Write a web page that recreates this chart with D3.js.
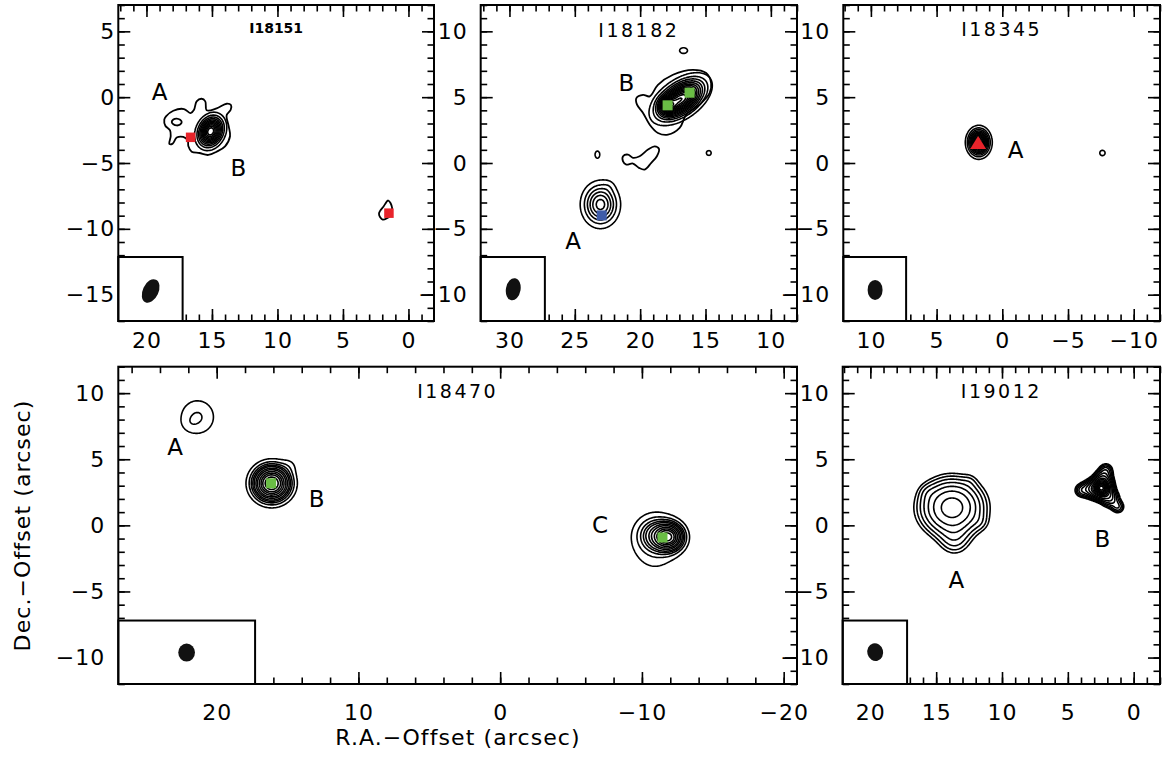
<!DOCTYPE html>
<html>
<head>
<meta charset="utf-8">
<script src="https://cdn.jsdelivr.net/npm/d3@7"></script>
<style>
  body { margin: 0; background: #fff; }
  svg text { font-family: "DejaVu Sans", sans-serif; fill: #000; }
</style>
</head>
<body>
<svg id="fig" width="1166" height="757"></svg>
<script>
// all offsets in arcsec, R.A. offset grows to the left
const panelNames = ["I18151", "I18182", "I18345", "I18470", "I19012"];
const raRanges  = [[22.15, -1.95], [32.2, 8.0], [12.1, -12.0], [26.94, -20.94], [22.1, -2.0]];
const decRanges = [[-17, 7], [-12, 12], [-12, 12], [-12, 12], [-12, 12]];
const raMajor = [5, 5, 5, 10, 5];
const raMinor = [1, 1, 1, 2, 1];

// emission components: [ra, dec, peak, sigma major, sigma minor, tilt of major axis (deg, N through W)]
const src18151 = [[15.1, -2.6, 12, 0.68, 0.52, 25]];
const src18182 = [
  [16.9, 4.85, 14, 1.2, 0.66, 55], [17.9, 4.35, 6, 0.4, 0.4, 0],
  [23.04, -3.15, 6.5, 0.95, 0.8, 0], [22.4, -1.75, 0.45, 0.35, 0.35, 0],
  [16.68, 8.54, 1.3, 0.42, 0.3, 90], [23.27, 0.64, 1.2, 0.45, 0.3, 0], [14.75, 0.76, 1.15, 0.35, 0.35, 0]
];
const src18345 = [[1.79, 1.57, 12, 0.58, 0.46, 0], [-7.62, 0.76, 1.12, 0.43, 0.43, 0]];
const src18470 = [
  [21.35, 8.2, 2.1, 1.0, 0.92, 0], [21.9, 7.7, 0.35, 0.4, 0.4, 0],
  [16.12, 3.18, 20, 0.76, 0.74, 0], [14.85, 4.55, 0.75, 0.45, 0.45, 0],
  [-11.9, -0.88, 14.5, 0.6, 0.6, 0], [-11.0, -0.75, 5, 0.75, 0.75, 0], [-10.9, -1.3, 1.8, 1.6, 1.2, 0]
];
const src19012 = [
  [13.8, 1.35, 8.5, 1.4, 1.25, 90], [13.6, -1.2, 1.5, 0.8, 0.8, 0],
  [15.7, 2.5, 0.45, 0.45, 0.45, 0], [11.6, 0.2, 0.45, 0.45, 0.45, 0], [12.4, 3.4, 0.35, 0.4, 0.4, 0],
  [2.45, 2.8, 26, 0.42, 0.42, 0],
  [3.3, 2.75, 5, 0.4, 0.4, 0], [2.3, 3.55, 5, 0.4, 0.4, 0], [1.8, 2.05, 5, 0.4, 0.4, 0],
  [4.0, 2.65, 2.5, 0.32, 0.32, 0], [2.1, 4.2, 2.5, 0.32, 0.32, 0], [1.2, 1.4, 2.5, 0.32, 0.32, 0]
];

// contour levels
const levels18151 = [1, 2, 3, 4, 5, 6, 7, 8, 9, 10, 11];
const levels18182 = [1, 2, 3, 4, 5, 6, 7, 8, 9, 10, 11, 12, 13, 14, 15, 16, 17, 18];
const levels18345 = [1, 2, 3, 4, 5, 6, 7, 8, 9, 10, 11];
const levels18470 = [1, 2, 3, 4, 5, 6.5, 8, 10, 12, 14, 16.5, 19];
const levels19012 = [1, 1.4, 1.95, 2.7, 3.75, 5.2, 7.2, 10, 12.5, 15, 17.5, 20, 22, 24, 26];

// weak, irregular contours: lists of [ra, dec]
const trace18151 = [
  [[18.51, -1.46], [17.95, -1.03], [17.13, -0.90], [16.63, -1.21], [16.37, -0.95], [16.17, -0.32],
   [15.79, -0.12], [15.51, -0.32], [15.40, -1.00], [14.64, -0.85], [13.88, -0.50], [13.55, -0.60],
   [13.57, -0.95], [13.88, -1.38], [13.72, -2.22], [13.62, -2.97], [14.0, -3.73], [14.64, -4.14],
   [15.28, -4.39], [15.96, -4.24], [16.55, -4.14], [16.80, -3.73], [16.85, -3.28], [17.19, -3.02],
   [17.69, -3.07], [18.0, -3.53], [18.25, -3.55], [18.15, -2.97], [18.20, -2.52], [18.56, -2.17], [18.64, -1.71]],
  [[18.07, -1.89], [17.95, -1.70], [17.69, -1.63], [17.43, -1.72], [17.31, -1.89], [17.43, -2.08], [17.69, -2.15], [17.95, -2.06]],
  [[1.54, -7.85], [1.25, -8.4], [1.4, -9.0], [1.97, -9.3], [2.25, -8.85], [1.9, -8.3]]
];
const trace18182 = [
  [[20.29, 4.93], [19.78, 5.18], [19.27, 5.06], [18.64, 5.94], [17.49, 6.70], [15.97, 7.08], [14.95, 6.83],
   [14.57, 6.07], [14.69, 5.31], [15.46, 4.43], [16.47, 3.67], [16.98, 2.66], [17.87, 2.15], [18.64, 2.28],
   [19.27, 2.91], [19.78, 3.80], [20.24, 4.43]],
  [[21.31, 0.51], [20.93, 0.64], [20.55, 0.39], [20.04, 0.51], [19.40, 1.02], [18.89, 1.27], [18.56, 1.07],
   [18.72, 0.51], [19.15, 0.01], [19.66, -0.50], [20.09, -0.37], [20.55, -0.04], [21.06, -0.12], [21.31, 0.13]]
];

// positions of other tracers: [ra, dec, kind]
const mark18151 = [[16.63, -3.05, "red"], [1.49, -8.81, "red"]];
const mark18182 = [[17.9, 4.38, "green"], [16.22, 5.34, "green"], [22.94, -3.98, "blue"]];
const mark18345 = [[1.84, 1.52, "tri"]];
const mark18470 = [[16.16, 3.18, "green"], [-11.45, -0.92, "green"]];
const mark19012 = [];

// component names: [text, ra, dec]
const labels18151 = [["A", 19.0, 0.44], ["B", 12.99, -5.37]];
const labels18182 = [["B", 21.06, 6.07], ["A", 25.13, -5.93]];
const labels18345 = [["A", -1.01, 1.02]];
const labels18470 = [["A", 22.94, 5.95], ["B", 12.94, 2.05], ["C", -7.05, 0.03]];
const labels19012 = [["A", 13.47, -4.12], ["B", 2.38, -0.98]];

// synthesized beam: [ra, dec, major, minor, pa] and its box [ra left, ra right, dec bottom, dec top]
const beams = [[19.68, -14.72, 0.95, 0.6, 25], [29.71, -9.59, 0.85, 0.56, 10], [9.68, -9.64, 0.76, 0.57, 0],
               [22.12, -9.62, 0.68, 0.59, 0], [19.63, -9.59, 0.68, 0.6, -15]];
const beamBoxes = [[22.15, 17.24, -17, -12.14], [32.2, 27.29, -12, -7.14], [12.1, 7.32, -12, -7.14],
                   [26.94, 17.29, -12, -7.2], [22.1, 17.21, -12, -7.2]];

const panels = [
  { src: src18151, lev: levels18151, trace: trace18151, marks: mark18151, labels: labels18151 },
  { src: src18182, lev: levels18182, trace: trace18182, marks: mark18182, labels: labels18182 },
  { src: src18345, lev: levels18345, trace: [], marks: mark18345, labels: labels18345 },
  { src: src18470, lev: levels18470, trace: [], marks: mark18470, labels: labels18470 },
  { src: src19012, lev: levels19012, trace: [], marks: mark19012, labels: labels19012 }
];

// page layout
const frames = [[118.3, 434, 5, 321], [480.7, 797, 5, 321], [843.3, 1160, 5, 321],
                [118.3, 797, 366.7, 684], [842.7, 1160, 366.7, 684]];
const labelPadY = [3, 13, 13, 13, 13];
const labelPadX = [11.4, 11.4, 11.4, 20.4, 20.4];
const titleStyle = [
  { size: 14, weight: "bold", ls: 0, dy: 28.3 },
  { size: 19, weight: "normal", ls: 2.5, dy: 31.7 },
  { size: 19, weight: "normal", ls: 2.5, dy: 30.7 },
  { size: 19, weight: "normal", ls: 2.5, dy: 31.6 },
  { size: 19, weight: "normal", ls: 2.5, dy: 31 }
];
const markColor = { red: "#e8242b", green: "#6abd45", blue: "#3f5ca9", tri: "#e8242b" };

const svg = d3.select("#fig");
svg.append("rect").attr("width", 1166).attr("height", 757).attr("fill", "#fff");

function field(srcs, ra, dec) {
  let v = 0;
  for (const [r0, d0, pk, sa, sb, t] of srcs) {
    const e = -(ra - r0), n = dec - d0, th = t * Math.PI / 180;
    const u = e * Math.sin(th) + n * Math.cos(th);
    const w = e * Math.cos(th) - n * Math.sin(th);
    v += pk * Math.exp(-(u * u / (2 * sa * sa) + w * w / (2 * sb * sb)));
  }
  return v;
}

function tickVals(scale, step) {
  const [lo, hi] = d3.extent(scale.domain());
  return d3.range(Math.ceil(lo / step - 1e-6) * step, hi + 1e-6, step);
}

function drawAxis(g, gen, scale, step, len, pos, withLabels, pad) {
  const ax = gen(scale).tickValues(tickVals(scale, step)).tickSizeInner(-len).tickSizeOuter(0)
    .tickPadding(pad || 0).tickFormat(withLabels ? d3.format("d") : "");
  const a = g.append("g").attr("transform", pos).call(ax);
  a.select(".domain").remove();
  a.attr("font-family", null).attr("font-size", null);
  a.selectAll("line").attr("stroke", "#000").attr("stroke-width", 1.6);
  a.selectAll("text").attr("font-size", 22).attr("letter-spacing", 1).attr("fill", "#000");
}

panels.forEach((p, k) => {
  const [fx0, fx1, fy0, fy1] = frames[k];
  const x = d3.scaleLinear().domain(raRanges[k]).range([fx0, fx1]);
  const y = d3.scaleLinear().domain(decRanges[k]).range([fy1, fy0]);
  const g = svg.append("g");

  // ticks on all four sides, labels on left and bottom
  drawAxis(g, d3.axisBottom, x, raMinor[k], 6.5, `translate(0,${fy1})`, false);
  drawAxis(g, d3.axisBottom, x, raMajor[k], 12, `translate(0,${fy1})`, true, labelPadX[k]);
  drawAxis(g, d3.axisTop, x, raMinor[k], 6.5, `translate(0,${fy0})`, false);
  drawAxis(g, d3.axisTop, x, raMajor[k], 12, `translate(0,${fy0})`, false);
  drawAxis(g, d3.axisLeft, y, 1, 6.5, `translate(${fx0},0)`, false);
  drawAxis(g, d3.axisLeft, y, 5, 12, `translate(${fx0},0)`, true, labelPadY[k]);
  drawAxis(g, d3.axisRight, y, 1, 6.5, `translate(${fx1},0)`, false);
  drawAxis(g, d3.axisRight, y, 5, 12, `translate(${fx1},0)`, false);

  // contour map
  const [r0, r1] = d3.extent(x.domain()), [d0, d1] = d3.extent(y.domain());
  const step = 0.08;
  const nx = Math.ceil((r1 - r0) / step) + 1, ny = Math.ceil((d1 - d0) / step) + 1;
  const vals = new Float64Array(nx * ny);
  for (let j = 0; j < ny; j++)
    for (let i = 0; i < nx; i++) vals[j * nx + i] = field(p.src, r0 + i * step, d0 + j * step);
  const cs = d3.contours().size([nx, ny]).thresholds(p.lev)(vals);
  const proj = d3.geoTransform({
    point(px, py) { this.stream.point(x(r0 + (px - 0.5) * step), y(d0 + (py - 0.5) * step)); }
  });
  g.append("g").selectAll("path").data(cs).join("path")
    .attr("d", d3.geoPath(proj))
    .attr("fill", "none").attr("stroke", "#000").attr("stroke-width", 1.6).attr("stroke-linejoin", "round");

  const line = d3.line().x(d => x(d[0])).y(d => y(d[1])).curve(d3.curveCatmullRomClosed.alpha(0.5));
  g.append("g").selectAll("path").data(p.trace).join("path")
    .attr("d", line)
    .attr("fill", "none").attr("stroke", "#000").attr("stroke-width", 1.8).attr("stroke-linejoin", "round");

  // markers
  p.marks.forEach(([ra, dec, kind]) => {
    const cx = x(ra), cy = y(dec);
    if (kind === "tri") {
      g.append("path").attr("d", `M${cx - 8},${cy + 6}L${cx + 8},${cy + 6}L${cx},${cy - 7}Z`)
        .attr("fill", markColor[kind]);
    } else {
      const s = k === 0 ? 9.5 : 10;
      g.append("rect").attr("x", cx - s / 2).attr("y", cy - s / 2).attr("width", s).attr("height", s)
        .attr("fill", markColor[kind]);
    }
  });

  // component names
  g.selectAll("text.lab").data(p.labels).join("text").attr("class", "lab")
    .attr("x", d => x(d[1])).attr("y", d => y(d[2]) + 8.3)
    .attr("text-anchor", "middle").attr("font-size", 23)
    .text(d => d[0]);

  // beam box
  const bb = beamBoxes[k];
  g.append("rect")
    .attr("x", x(bb[0])).attr("y", y(bb[3]))
    .attr("width", x(bb[1]) - x(bb[0])).attr("height", y(bb[2]) - y(bb[3]))
    .attr("fill", "#fff").attr("stroke", "#000").attr("stroke-width", 2);
  const b = beams[k];
  const bx = x(b[0]), by = y(b[1]);
  g.append("ellipse").attr("cx", bx).attr("cy", by)
    .attr("rx", Math.abs(x(b[0] + b[3]) - bx)).attr("ry", Math.abs(y(b[1] + b[2]) - by))
    .attr("transform", `rotate(${b[4]},${bx},${by})`)
    .attr("fill", "#111");

  // frame
  g.append("rect").attr("x", fx0).attr("y", fy0).attr("width", fx1 - fx0).attr("height", fy1 - fy0)
    .attr("fill", "none").attr("stroke", "#000").attr("stroke-width", 2);

  // source name
  const ts = titleStyle[k];
  g.append("text").attr("x", (fx0 + fx1) / 2).attr("y", fy0 + ts.dy)
    .attr("text-anchor", "middle").attr("font-size", ts.size).attr("font-weight", ts.weight)
    .attr("letter-spacing", ts.ls).text(panelNames[k]);
});

// axis titles
svg.append("text").attr("transform", "translate(30,525.5) rotate(-90)")
  .attr("text-anchor", "middle").attr("font-size", 22).attr("letter-spacing", 1.1)
  .text("Dec.\u2212Offset (arcsec)");
svg.append("text").attr("x", 458).attr("y", 745)
  .attr("text-anchor", "middle").attr("font-size", 22).attr("letter-spacing", 1.1)
  .text("R.A.\u2212Offset (arcsec)");
</script>
</body>
</html>
